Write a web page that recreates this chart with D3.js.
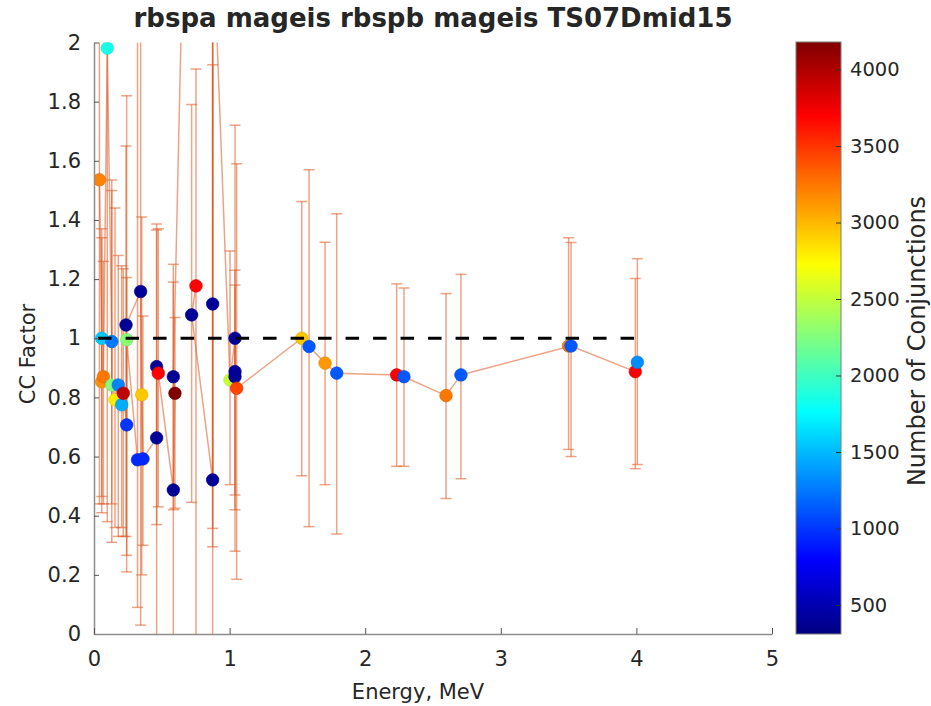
<!DOCTYPE html>
<html>
<head>
<meta charset="utf-8">
<script src="https://cdn.jsdelivr.net/npm/d3@7"></script>
<style>
  html, body { margin: 0; padding: 0; background: #fff; }
  svg { display: block; }
  text { font-family: "DejaVu Sans", sans-serif; fill: #262626; }
</style>
</head>
<body>
<svg id="chart" width="931" height="706"></svg>
<script>
// ---------------- data ----------------
const energy = [
  3.50,
  0.040, 0.057, 0.057, 0.069, 0.098, 0.131, 0.131, 0.155, 0.179, 0.204, 0.216, 0.241, 0.241, 0.321,
  0.236, 0.344, 0.352, 0.361, 0.462, 0.462,
  0.474, 0.585, 0.597, 0.585, 0.69,
  0.752, 0.720, 0.875, 0.875, 0.875, 1.003, 1.040, 1.040, 1.040, 1.052,
  1.532, 1.586, 1.704, 1.790, 2.232, 2.286, 2.596, 2.706, 3.518, 3.992,
  4.007
];
const ccFactor = [
  0.974,
  1.536, 1.000, 0.853, 0.870, 1.981, 0.989, 0.842, 0.792, 0.842, 0.775, 0.814, 0.707, 0.995, 0.589,
  1.045, 1.158, 0.809, 0.592, 0.663, 0.904,
  0.882, 0.487, 0.814, 0.870, 3.0,
  1.177, 1.079, 0.521, 1.116, 2.40, 0.859, 1.000, 0.887, 0.870, 0.831,
  1.000, 0.972, 0.916, 0.882, 0.876, 0.870, 0.806, 0.876, 0.974, 0.887,
  0.919
];
const errLow = [
  0.624,
  0.44, 0.41, 0.465, 0.44, 0.38, 0.44, 0.31, 0.36, 0.33, 0.36, 0.33, 0.266, 0.21, 0.09,
  0.33, 0.03, 0.20, 0.30, 0.37, -0.3,
  0.43, -0.3, 0.425, 0.42, 2.1,
  -0.3, 0.445, -0.3, 0.295, 0.357, 0.505, 0.28, 0.47, 0.42, 0.185,
  0.535, 0.363, 0.505, 0.338, 0.567, 0.567, 0.458, 0.525, 0.600, 0.559,
  0.573
];
const errHigh = [
  1.340,
  2.5, 1.37, 1.34, 1.26, 2.7, 1.535, 1.50, 1.44, 1.28, 1.245, 1.235, 1.205, 1.82, 2.3,
  1.65, 2.4, 1.41, 1.075, 1.386, 1.366,
  1.37, 1.25, 1.07, 1.19, 3.5,
  1.91, 1.79, 1.925, 2.6, 3.2, 1.295, 1.72, 1.23, 1.18, 1.59,
  1.462, 1.57, 1.325, 1.421, 1.184, 1.170, 1.151, 1.216, 1.324, 1.202,
  1.269
];
const conjunctions = [
  3250,
  3200, 1550, 3150, 3250, 1850, 1250, 2250, 2800, 1300, 1450, 3940, 1000, 2290, 950,
  400, 400, 2940, 950, 400, 400,
  3700, 400, 4180, 400, 1500,
  3700, 400, 400, 400, 1200, 2515, 400, 400, 400, 3440,
  2940, 1130, 3125, 1130, 3700, 1130, 3250, 1130, 1130, 3700,
  1330
];
const seriesId = [
  4,
  0, 0, 0, 0, 0, 0, 0, 0, 0, 0, 0, 0, 0, 0,
  1, 1, 1, 1, 1, 1,
  2, 2, 2, 2, 2,
  3, 3, 3, 3, 3, 3, 3, 3, 3, 3,
  3, 3, 3, 3, 3, 3, 3, 3, 3, 3,
  5
];
const xTicks = [0, 1, 2, 3, 4, 5];
const yTicks = [0, 0.2, 0.4, 0.6, 0.8, 1, 1.2, 1.4, 1.6, 1.8, 2];
const cTicks = [500, 1000, 1500, 2000, 2500, 3000, 3500, 4000];
const cDomain = [310, 4180];
const refLine = [[0.03, 1], [4.0, 1]];

// ---------------- layout ----------------
const svg = d3.select("#chart");
const x = d3.scaleLinear().domain([0, 5]).range([94, 772]);
const y = d3.scaleLinear().domain([0, 2]).range([634, 42.5]);

function jet(t) {
  const c = v => Math.max(0, Math.min(1, v));
  const r = c(1.5 - Math.abs(4 * t - 3));
  const g = c(1.5 - Math.abs(4 * t - 2));
  const b = c(1.5 - Math.abs(4 * t - 1));
  return d3.rgb(r * 255, g * 255, b * 255).formatHex();
}
const cNorm = d3.scaleLinear().domain(cDomain).range([0, 1]).clamp(true);
const color = n => jet(cNorm(n));

const pts = energy.map((e, i) => ({
  e, v: ccFactor[i], lo: errLow[i], hi: errHigh[i], n: conjunctions[i], s: seriesId[i]
}));

svg.append("defs").append("clipPath").attr("id", "plotclip")
  .append("rect")
  .attr("x", x(0)).attr("y", y(2))
  .attr("width", x(5) - x(0)).attr("height", y(0) - y(2));

const plot = svg.append("g").attr("clip-path", "url(#plotclip)");
const ebColor = "#DE5A22";
const ebOpacity = 0.55;
const capW = 5.5;

// error bars
const eb = plot.append("g").attr("stroke", ebColor).attr("stroke-opacity", ebOpacity)
  .attr("stroke-width", 1.5).attr("fill", "none");
pts.forEach(p => {
  const px = x(p.e);
  eb.append("line").attr("x1", px).attr("x2", px).attr("y1", y(p.lo)).attr("y2", y(p.hi));
  eb.append("line").attr("x1", px - capW).attr("x2", px + capW).attr("y1", y(p.lo)).attr("y2", y(p.lo));
  eb.append("line").attr("x1", px - capW).attr("x2", px + capW).attr("y1", y(p.hi)).attr("y2", y(p.hi));
});

// connecting lines per series
const groups = d3.groups(pts, d => d.s);
const line = d3.line().x(d => x(d.e)).y(d => y(d.v));
plot.append("g").selectAll("path").data(groups.filter(g => g[1].length > 1)).join("path")
  .attr("d", g => line(g[1]))
  .attr("fill", "none").attr("stroke", ebColor).attr("stroke-opacity", ebOpacity)
  .attr("stroke-width", 1.5);

// points
plot.append("g").selectAll("circle").data(pts).join("circle")
  .attr("cx", d => x(d.e)).attr("cy", d => y(d.v)).attr("r", 6.3)
  .attr("fill", d => color(d.n))
  .attr("stroke", d => d3.color(color(d.n)).darker(0.4)).attr("stroke-width", 0.6);

// reference dashed line
plot.append("path")
  .attr("d", d3.line().x(d => x(d[0])).y(d => y(d[1]))(refLine))
  .attr("stroke", "#000").attr("stroke-width", 3).attr("stroke-dasharray", "13.5,14")
  .attr("fill", "none");

// axes
const axisColor = "#8c8c8c";
const yAxis = svg.append("g").attr("transform", `translate(${x(0)},0)`)
  .call(d3.axisLeft(y).tickValues(yTicks).tickSizeInner(-5).tickSizeOuter(0).tickPadding(13)
    .tickFormat(d3.format("~g")));
const xAxis = svg.append("g").attr("transform", `translate(0,${y(0)})`)
  .call(d3.axisBottom(x).tickValues(xTicks).tickSizeInner(-6).tickSizeOuter(0).tickPadding(17)
    .tickFormat(d3.format("d")));
[yAxis, xAxis].forEach(a => {
  a.select(".domain").attr("stroke", axisColor).attr("stroke-width", 1.5);
  a.selectAll(".tick line").attr("stroke", "#555").attr("stroke-width", 1);
  a.selectAll(".tick text").attr("font-size", 21).attr("font-family", "DejaVu Sans").attr("fill", "#262626");
});

// labels
svg.append("text").attr("x", (x(0) + x(5)) / 2).attr("y", 27)
  .attr("text-anchor", "middle").attr("font-size", 26).attr("font-weight", "bold")
  .attr("fill", "#000")
  .text("rbspa mageis rbspb mageis TS07Dmid15");
svg.append("text").attr("x", (x(0) + x(5)) / 2 - 15).attr("y", 699)
  .attr("text-anchor", "middle").attr("font-size", 21)
  .text("Energy, MeV");
svg.append("text").attr("transform", `translate(35,354) rotate(-90)`)
  .attr("text-anchor", "middle").attr("font-size", 21)
  .text("CC Factor");

// colorbar
const cb = { x: 796, w: 45, top: 42, bottom: 634 };
const cy = d3.scaleLinear().domain(cDomain).range([cb.bottom, cb.top]);
const grad = svg.select("defs").append("linearGradient").attr("id", "jetgrad")
  .attr("x1", 0).attr("y1", 1).attr("x2", 0).attr("y2", 0);
d3.range(0, 1.0001, 1 / 64).forEach(t => {
  grad.append("stop").attr("offset", t).attr("stop-color", jet(t));
});
svg.append("rect").attr("x", cb.x).attr("y", cb.top).attr("width", cb.w)
  .attr("height", cb.bottom - cb.top).attr("fill", "url(#jetgrad)")
  .attr("stroke", "#7f7f7f").attr("stroke-width", 1);
const cAxis = svg.append("g").attr("transform", `translate(${cb.x + cb.w},0)`)
  .call(d3.axisRight(cy).tickValues(cTicks).tickSizeInner(-5).tickSizeOuter(0).tickPadding(9)
    .tickFormat(d3.format("d")));
cAxis.select(".domain").remove();
cAxis.selectAll(".tick line").attr("stroke", "#333").attr("stroke-width", 1);
cAxis.selectAll(".tick text").attr("font-size", 19.5).attr("font-family", "DejaVu Sans").attr("fill", "#262626");
svg.append("text").attr("transform", `translate(925,341) rotate(-90)`)
  .attr("text-anchor", "middle").attr("font-size", 24)
  .text("Number of Conjunctions");
</script>
</body>
</html>
